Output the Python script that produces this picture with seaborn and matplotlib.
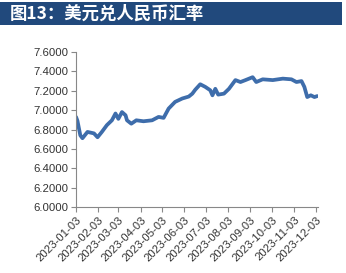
import matplotlib
matplotlib.use("Agg")
import matplotlib.pyplot as plt
import seaborn as sns
import pandas as pd
from matplotlib.patches import Rectangle

dates = ["2023-01-03", "2023-01-05", "2023-01-09", "2023-01-12", "2023-01-19", "2023-01-28",
         "2023-02-02", "2023-02-08", "2023-02-15", "2023-02-22", "2023-02-27", "2023-03-03",
         "2023-03-08", "2023-03-13", "2023-03-15", "2023-03-21", "2023-03-28", "2023-04-07",
         "2023-04-19", "2023-04-28", "2023-05-05", "2023-05-12", "2023-05-21", "2023-05-31",
         "2023-06-09", "2023-06-14", "2023-06-18", "2023-06-25", "2023-07-02", "2023-07-09",
         "2023-07-12", "2023-07-16", "2023-07-20", "2023-07-28", "2023-08-04", "2023-08-13",
         "2023-08-20", "2023-08-27", "2023-09-06", "2023-09-11", "2023-09-20", "2023-10-04",
         "2023-10-18", "2023-10-30", "2023-11-06", "2023-11-13", "2023-11-17", "2023-11-21",
         "2023-11-26", "2023-12-01", "2023-12-05"]
rates = [6.93, 6.89, 6.74, 6.71, 6.775, 6.76,
         6.72, 6.775, 6.845, 6.895, 6.965, 6.91,
         6.98, 6.947, 6.895, 6.86, 6.895, 6.885,
         6.895, 6.93, 6.92, 7.016, 7.085, 7.12,
         7.14, 7.17, 7.21, 7.267, 7.24, 7.205,
         7.153, 7.22, 7.16, 7.17, 7.22, 7.31,
         7.29, 7.31, 7.34, 7.29, 7.318, 7.31,
         7.325, 7.318, 7.29, 7.30, 7.24, 7.135,
         7.153, 7.135, 7.145]
tick_labels = ["2023-01-03", "2023-02-03", "2023-03-03", "2023-04-03", "2023-05-03", "2023-06-03",
               "2023-07-03", "2023-08-03", "2023-09-03", "2023-10-03", "2023-11-03", "2023-12-03"]
y_ticks = [6.0, 6.2, 6.4, 6.6, 6.8, 7.0, 7.2, 7.4, 7.6]
title = "图13：美元兑人民币汇率"

df = pd.DataFrame({"date": pd.to_datetime(dates), "rate": rates})

sns.set_style("white")
plt.rcParams["font.family"] = ["Liberation Sans", "DejaVu Sans"]

fig = plt.figure(figsize=(3.46, 2.73), dpi=100)
ax = fig.add_axes([76 / 346, 1 - 207 / 273, (318 - 76) / 346, (207 - 52) / 273])

sns.lineplot(data=df, x="date", y="rate", ax=ax, color="#3e6dab", linewidth=2.7)

ax.set_xlim(pd.Timestamp("2023-01-03"), pd.Timestamp("2023-12-06"))
ax.set_ylim(6.0, 7.6)
ax.set_yticks(y_ticks)
ax.set_yticklabels([f"{v:.4f}" for v in y_ticks])
ax.set_xticks(pd.to_datetime(tick_labels))
ax.set_xticklabels(tick_labels, rotation=45, ha="right", rotation_mode="anchor")
ax.set_xlabel("")
ax.set_ylabel("")

for s in ["top", "right"]:
    ax.spines[s].set_visible(False)
for s in ["left", "bottom"]:
    ax.spines[s].set_color("#888888")
    ax.spines[s].set_linewidth(0.8)
ax.tick_params(axis="both", which="major", direction="out", length=3.5, width=0.8,
               color="#888888", labelsize=8.2, labelcolor="#333333", pad=2,
               bottom=True, left=True)

fig.patches.append(Rectangle((0, 1 - 25 / 273), 342 / 346, 23 / 273, transform=fig.transFigure,
                             facecolor="#21497c", edgecolor="none", zorder=0))
fig.text(10 / 346, 1 - 13.5 / 273, title, color="white", fontsize=12.5, fontweight="bold",
         va="center", ha="left", family=["Noto Sans CJK SC", "DejaVu Sans"])

fig.savefig("out.png", dpi=100, facecolor="white")
